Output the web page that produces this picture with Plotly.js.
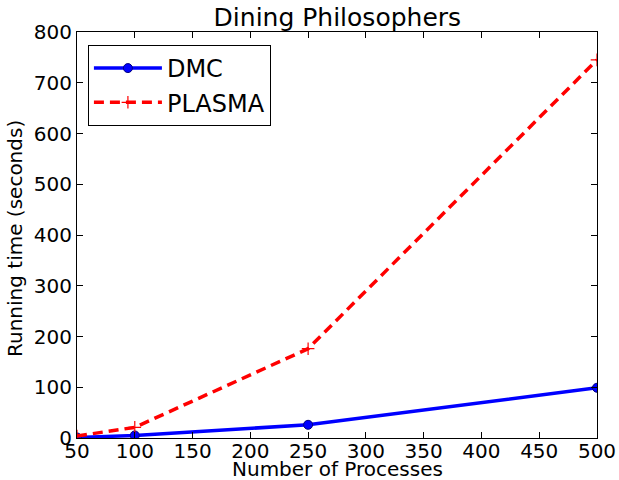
<!DOCTYPE html>
<html><head><meta charset="utf-8">
<script src="https://cdn.plot.ly/plotly-3.0.1.min.js"></script>
<style>body{margin:0;background:#fff}</style>
</head><body>
<div id="chart" style="width:619px;height:480px"></div>
<script>
const processes = [50, 100, 250, 500];
const dmc = [1, 5, 26, 99];
const plasma = [4, 21, 176, 745];
const seriesNames = ['DMC', 'PLASMA'];
const titleText = 'Dining Philosophers';
const xTitle = 'Number of Processes';
const yTitle = 'Running time (seconds)';

const F = 'DejaVu Sans';
const tickFont = {family: F, size: 20, color: '#000'};
const data = [
  {x: processes, y: dmc, name: seriesNames[0], legendgroup: 'a', type: 'scatter', mode: 'lines+markers',
   line: {color: '#0000ff', width: 3.5}, marker: {color: '#0000ff', size: 9, symbol: 'circle', line: {color: '#000080', width: 1}}},
  {x: processes, y: plasma, name: seriesNames[1], legendgroup: 'b', type: 'scatter', mode: 'lines+markers',
   line: {color: '#ff0000', width: 3.5, dash: '10px,6px'}, marker: {color: '#ff0000', size: 9, symbol: 'cross-thin', line: {color: '#ff0000', width: 1.2}}}
];
const layout = {
  width: 619, height: 480,
  margin: {l: 77, r: 22, t: 32, b: 42},
  paper_bgcolor: '#fff', plot_bgcolor: '#fff',
  title: {text: titleText, font: {family: F, size: 25, color: '#000'}, x: 0.545, xanchor: 'center', xref: 'container', y: 1 - 17/480, yanchor: 'middle'},
  xaxis: {range: [50, 500], dtick: 50, tick0: 50, ticks: 'inside', ticklen: 6, tickcolor: '#000', mirror: 'ticks',
    showline: true, linecolor: '#000', linewidth: 1, showgrid: false, zeroline: false, tickfont: tickFont, ticklabelstandoff: -5},
  yaxis: {range: [0, 800], dtick: 100, ticks: 'inside', ticklen: 6, tickcolor: '#000', mirror: 'ticks',
    showline: true, linecolor: '#000', linewidth: 1, showgrid: false, zeroline: false, tickfont: tickFont},
  annotations: [
    {text: xTitle, xref: 'paper', yref: 'paper', x: 0.5, y: (438 - 469) / 406, xanchor: 'center', yanchor: 'middle',
     showarrow: false, borderpad: 0, font: {family: F, size: 20, color: '#000'}},
    {text: yTitle, xref: 'paper', yref: 'paper', x: (15 - 77) / 520, y: (438 - 239) / 406, xanchor: 'center', yanchor: 'middle',
     textangle: -90, showarrow: false, font: {family: F, size: 20, color: '#000'}}
  ],
  legend: {x: 0.021, y: 0.968, xanchor: 'left', yanchor: 'top', bordercolor: '#000', borderwidth: 1, bgcolor: '#fff',
    font: {family: F, size: 24, color: '#000'}, tracegroupgap: 0, itemwidth: 68},
  showlegend: true
};
Plotly.newPlot('chart', data, layout, {displayModeBar: false, staticPlot: true});
</script>
</body></html>
